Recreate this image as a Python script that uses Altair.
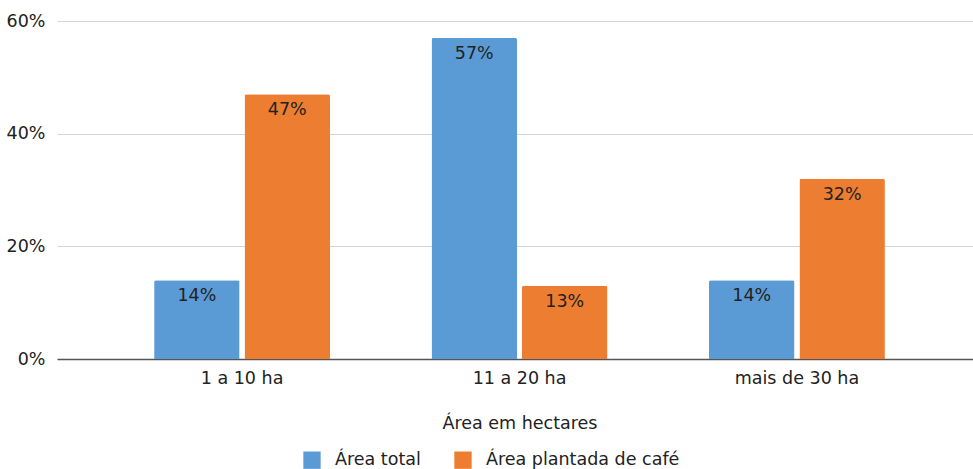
import altair as alt
import pandas as pd

categories = ["1 a 10 ha", "11 a 20 ha", "mais de 30 ha"]
series = ["Área total", "Área plantada de café"]
area_total = [14, 57, 14]
area_cafe = [47, 13, 32]
colors = ["#5B9BD5", "#ED7D31"]

rows = []
for c, a, b in zip(categories, area_total, area_cafe):
    rows.append({"cat": c, "serie": series[0], "v": a / 100, "lbl": f"{a}%"})
    rows.append({"cat": c, "serie": series[1], "v": b / 100, "lbl": f"{b}%"})
df = pd.DataFrame(rows)

FONT = "DejaVu Sans"
FS = 17.5

x = alt.X("cat:N", sort=categories, title="Área em hectares",
          scale=alt.Scale(range=[0, 925], paddingInner=0.366, paddingOuter=0.35),
          axis=alt.Axis(labelAngle=0, ticks=False, domainColor="#555555", domainWidth=1.5,
                        labelPadding=10, titlePadding=28, labelFontSize=FS, titleFontSize=FS,
                        labelFont=FONT, titleFont=FONT, titleFontWeight="normal",
                        labelColor="#222222", titleColor="#222222", grid=False))
xo = alt.XOffset("serie:N", sort=series,
                 scale=alt.Scale(paddingInner=0.055, paddingOuter=0))
y = alt.Y("v:Q", title=None,
          scale=alt.Scale(domain=[0, 0.6], nice=False),
          axis=alt.Axis(values=[0, 0.2, 0.4, 0.6], format=".0%", domain=False, ticks=False,
                        labelPadding=12, labelFontSize=FS, labelFont=FONT, labelColor="#222222",
                        gridColor="#d4d4d4", gridWidth=1.2))

bars = alt.Chart(df).mark_bar(cornerRadiusTopLeft=2, cornerRadiusTopRight=2).encode(
    x=x, xOffset=xo, y=y,
    color=alt.Color("serie:N", sort=series, scale=alt.Scale(domain=series, range=colors),
                    legend=alt.Legend(title=None, orient="none", legendX=246, legendY=430,
                                      direction="horizontal", symbolType="square",
                                      symbolSize=300, symbolStrokeWidth=0, labelOffset=14,
                                      columnPadding=33, labelFontSize=FS, labelFont=FONT,
                                      labelColor="#222222", labelLimit=400))
)

labels = alt.Chart(df).mark_text(baseline="middle", dy=16, fontSize=FS, font=FONT,
                                 color="#222222").encode(
    x=alt.X("cat:N", sort=categories), xOffset=xo, y="v:Q", text="lbl:N"
)

chart = (bars + labels).properties(
    width=916, height=338,
    autosize=alt.AutoSizeParams(type="none"),
    padding={"left": 57, "top": 21, "right": 0, "bottom": 110},
).configure_view(stroke=None)

chart.save("out.html", embed_options={"renderer": "svg", "actions": False})
